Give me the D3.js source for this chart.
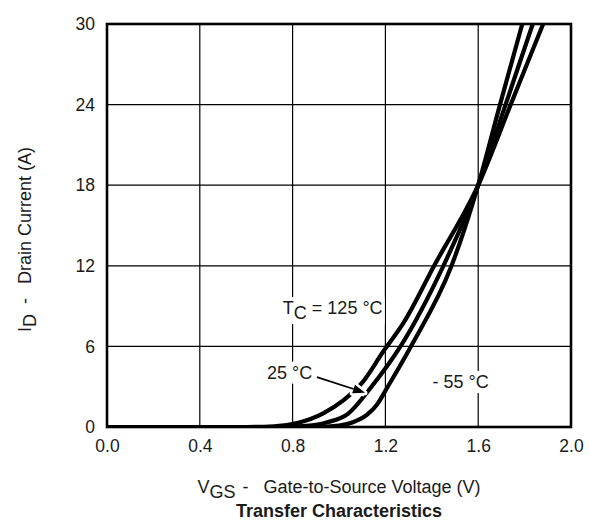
<!DOCTYPE html>
<html>
<head>
<meta charset="utf-8">
<script src="https://cdn.jsdelivr.net/npm/d3@7"></script>
<style>
  body { margin: 0; background: #fff; }
  text { font-family: "Liberation Sans", Arial, Helvetica, sans-serif; fill: #1a1a1a; }
</style>
</head>
<body>
<svg id="chart" width="589" height="527"></svg>
<script>
// Axis ticks
const xTicks = [0, 0.4, 0.8, 1.2, 1.6, 2.0];
const yTicks = [0, 6, 12, 18, 24, 30];

// Drain current vs gate-source voltage, one curve per case temperature
const vgsHot  = [0, 0.6, 0.72, 0.82, 0.93, 1.02, 1.10, 1.19, 1.28, 1.41, 1.6, 1.74, 1.88];
const idHot   = [0, 0, 0.05, 0.3, 1.0, 2.0, 3.3, 5.6, 7.8, 12, 18, 24, 30];

const vgsRoom = [0, 0.75, 0.86, 0.95, 1.04, 1.14, 1.265, 1.45, 1.6, 1.718, 1.835];
const idRoom  = [0, 0, 0.08, 0.35, 1.0, 3.0, 6.0, 12, 18, 24, 30];

const vgsCold = [0, 0.9, 1.0, 1.06, 1.12, 1.165, 1.21, 1.31, 1.485, 1.6, 1.694, 1.79];
const idCold  = [0, 0, 0.1, 0.35, 0.9, 1.7, 3.0, 6.0, 12, 18, 24, 30];

const series = [
  { name: "125", v: vgsHot,  i: idHot },
  { name: "25",  v: vgsRoom, i: idRoom },
  { name: "-55", v: vgsCold, i: idCold }
];

const svg = d3.select("#chart");
const pLeft = 107, pRight = 571, pTop = 24, pBottom = 427;
const fsTick = 17.5, fs = 18;

const x = d3.scaleLinear().domain([0, 2.0]).range([pLeft, pRight]);
const y = d3.scaleLinear().domain([0, 30]).range([pBottom, pTop]);

// grid
const grid = svg.append("g");
grid.selectAll("line.vx").data(xTicks.slice(1, -1)).join("line")
  .attr("x1", d => x(d)).attr("x2", d => x(d))
  .attr("y1", pTop).attr("y2", pBottom)
  .attr("stroke", "#000").attr("stroke-width", 1.2);
grid.selectAll("line.hy").data(yTicks.slice(1, -1)).join("line")
  .attr("x1", pLeft).attr("x2", pRight)
  .attr("y1", d => y(d)).attr("y2", d => y(d))
  .attr("stroke", "#000").attr("stroke-width", 1.2);

// tick labels through the axis generators
const xAxis = svg.append("g").attr("transform", `translate(0,${pBottom})`)
  .call(d3.axisBottom(x).tickValues(xTicks).tickSize(0).tickPadding(13).tickFormat(d3.format(".1f")));
const yAxis = svg.append("g").attr("transform", `translate(${pLeft},0)`)
  .call(d3.axisLeft(y).tickValues(yTicks).tickSize(0).tickPadding(12).tickFormat(d3.format("d")));
[xAxis, yAxis].forEach(a => {
  a.select(".domain").remove();
  a.selectAll("text").attr("font-size", fsTick).attr("fill", "#1a1a1a")
    .style("font-family", "'Liberation Sans', Arial, sans-serif");
});

// labels with a white knock-out behind them
const labels = svg.append("g");
function boxedText(tx, ty, build) {
  const g = labels.append("g");
  const bg = g.append("rect").attr("fill", "#fff");
  const t = g.append("text").attr("x", tx).attr("y", ty).attr("font-size", fs);
  build(t);
  const b = t.node().getBBox();
  bg.attr("x", b.x - 2).attr("y", b.y - 1).attr("width", b.width + 4).attr("height", b.height + 2);
  return g;
}

// curves
svg.append("clipPath").attr("id", "plot")
  .append("rect").attr("x", pLeft).attr("y", pTop).attr("width", pRight - pLeft).attr("height", pBottom - pTop);

const line = d3.line().x(d => x(d[0])).y(d => y(d[1])).curve(d3.curveMonotoneX);
const curves = svg.append("g").attr("clip-path", "url(#plot)");
curves.selectAll("path").data(series).join("path")
  .attr("d", s => line(s.v.map((v, k) => [v, s.i[k]])))
  .attr("fill", "none").attr("stroke", "#000").attr("stroke-width", 4.2)
  .attr("stroke-linejoin", "round");

// frame
svg.append("rect").attr("x", pLeft).attr("y", pTop).attr("width", pRight - pLeft).attr("height", pBottom - pTop)
  .attr("fill", "none").attr("stroke", "#000").attr("stroke-width", 2.6);

// temperature labels
boxedText(x(0.758), y(8.4), t => {
  t.append("tspan").text("T");
  t.append("tspan").attr("dy", 5).text("C");
  t.append("tspan").attr("dy", -5).text(" = 125 °C");
});
boxedText(x(0.69), y(3.6), t => t.text("25 °C"));
boxedText(x(1.403), y(2.9), t => t.text("- 55 °C"));

// arrow from the 25 °C label to its curve
const a0 = [x(0.905), y(3.72)], a1 = [x(1.112), y(2.55)];
const ang = Math.atan2(a1[1] - a0[1], a1[0] - a0[0]);
const headLen = 12, headW = 4.5;
const base = [a1[0] - headLen * Math.cos(ang), a1[1] - headLen * Math.sin(ang)];
const head = [
  a1,
  [base[0] + headW * Math.sin(ang), base[1] - headW * Math.cos(ang)],
  [base[0] - headW * Math.sin(ang), base[1] + headW * Math.cos(ang)]
];
const arrow = svg.append("g");
arrow.append("line").attr("x1", a0[0] + 20 * Math.cos(ang)).attr("y1", a0[1] + 20 * Math.sin(ang))
  .attr("x2", a1[0]).attr("y2", a1[1]).attr("stroke", "#fff").attr("stroke-width", 8);
arrow.append("polygon").attr("points", head.map(p => p.join(",")).join(" "))
  .attr("fill", "#fff").attr("stroke", "#fff").attr("stroke-width", 5).attr("stroke-linejoin", "round");
arrow.append("line").attr("x1", a0[0]).attr("y1", a0[1]).attr("x2", base[0]).attr("y2", base[1])
  .attr("stroke", "#000").attr("stroke-width", 1.8);
arrow.append("polygon").attr("points", head.map(p => p.join(",")).join(" ")).attr("fill", "#000");

// axis titles
svg.append("text").attr("transform", "translate(31,332) rotate(-90)")
  .attr("text-anchor", "start").attr("font-size", fs)
  .call(t => {
    t.append("tspan").text("I");
    t.append("tspan").attr("dy", 5).text("D");
    t.append("tspan").attr("dy", -5).attr("dx", 10).text("-");
    t.append("tspan").attr("dx", 14).text("Drain Current (A)");
  });

svg.append("text").attr("x", (pLeft + pRight) / 2).attr("y", 493)
  .attr("text-anchor", "middle").attr("font-size", fs)
  .call(t => {
    t.append("tspan").text("V");
    t.append("tspan").attr("dy", 5).text("GS");
    t.append("tspan").attr("dy", -5).attr("dx", 7).text("-");
    t.append("tspan").attr("dx", 15).text("Gate-to-Source Voltage (V)");
  });

svg.append("text").attr("x", (pLeft + pRight) / 2).attr("y", 517)
  .attr("text-anchor", "middle").attr("font-size", fs).attr("font-weight", "bold")
  .text("Transfer Characteristics");
</script>
</body>
</html>
